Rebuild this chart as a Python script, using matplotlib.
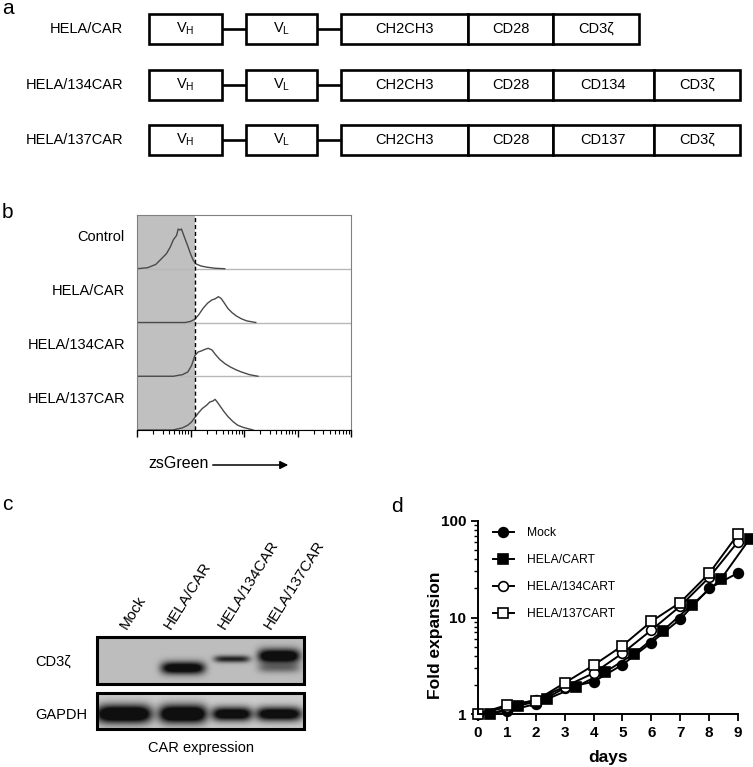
import matplotlib
matplotlib.use('Agg')
import matplotlib.pyplot as plt
from matplotlib.patches import Rectangle
import numpy as np

plt.rcParams['font.family'] = ['Liberation Sans', 'DejaVu Sans']
plt.rcParams['mathtext.fontset'] = 'custom'
plt.rcParams['mathtext.rm'] = 'Liberation Sans'

W, H = 753, 767

# ── panel a : CAR constructs ─────────────────────────────────────
constructs = ['HELA/CAR', 'HELA/134CAR', 'HELA/137CAR']
domains = [
    ['V$_{\\rm H}$', 'V$_{\\rm L}$', 'CH2CH3', 'CD28', 'CD3ζ'],
    ['V$_{\\rm H}$', 'V$_{\\rm L}$', 'CH2CH3', 'CD28', 'CD134', 'CD3ζ'],
    ['V$_{\\rm H}$', 'V$_{\\rm L}$', 'CH2CH3', 'CD28', 'CD137', 'CD3ζ'],
]
dom_w = [73, 71, 127, 85, 101, 86]
row_y = [29, 85, 140]

# ── panel b : zsGreen histograms (x in log decades, y = fraction of row) ──
hist_labels = ['Control', 'HELA/CAR', 'HELA/134CAR', 'HELA/137CAR']
ctrl_x = [0.0, 0.2, 0.35, 0.45, 0.55, 0.62, 0.68, 0.74, 0.77, 0.80, 0.83, 0.86,
          0.90, 0.95, 1.00, 1.05, 1.10, 1.20, 1.30, 1.45, 1.64]
ctrl_y = [0.0, 0.02, 0.08, 0.18, 0.28, 0.40, 0.54, 0.62, 0.74, 0.72, 0.74, 0.66,
          0.55, 0.42, 0.28, 0.16, 0.09, 0.05, 0.03, 0.01, 0.0]
car_x = [0.0, 0.9, 1.0, 1.08, 1.15, 1.24, 1.32, 1.40, 1.46, 1.52, 1.57, 1.62,
         1.70, 1.78, 1.86, 1.95, 2.05, 2.22]
car_y = [0.0, 0.0, 0.02, 0.06, 0.14, 0.27, 0.36, 0.42, 0.44, 0.48, 0.45, 0.38,
         0.26, 0.18, 0.12, 0.07, 0.03, 0.0]
c134_x = [0.0, 0.68, 0.85, 0.95, 1.02, 1.08, 1.14, 1.20, 1.27, 1.33, 1.40, 1.47,
          1.55, 1.65, 1.75, 1.85, 1.95, 2.10, 2.26]
c134_y = [0.0, 0.0, 0.03, 0.08, 0.20, 0.38, 0.45, 0.47, 0.50, 0.52, 0.49, 0.40,
          0.31, 0.23, 0.17, 0.12, 0.08, 0.03, 0.0]
c137_x = [0.0, 0.67, 0.85, 0.95, 1.02, 1.08, 1.15, 1.22, 1.30, 1.36, 1.42, 1.46,
          1.50, 1.55, 1.62, 1.70, 1.79, 1.88, 1.98, 2.17]
c137_y = [0.0, 0.0, 0.04, 0.09, 0.15, 0.23, 0.32, 0.40, 0.46, 0.52, 0.54, 0.57,
          0.52, 0.45, 0.35, 0.25, 0.16, 0.09, 0.05, 0.0]
gate = 1.08

# ── panel c : western blot ───────────────────────────────────────
lanes = ['Mock', 'HELA/CAR', 'HELA/134CAR', 'HELA/137CAR']
lane_x = [124, 183, 232, 279]
lane_hw = [26, 22, 18, 21]
cd3z_amp = [0.0, 1.3, 0.9, 1.4]
cd3z_yc = [668, 668, 659, 656]
cd3z_sy = [4.0, 4.5, 2.5, 5.0]
cd3z_low_amp = [0.0, 0.0, 0.0, 0.45]     # lower band in HELA/137CAR
gapdh_amp = [1.5, 1.5, 1.3, 1.3]
gapdh_sy = [6.5, 6.5, 5.0, 5.0]

# ── panel d : expansion ──────────────────────────────────────────
days = [0, 1, 2, 3, 4, 5, 6, 7, 8, 9]
days_cart = [0.4, 1.4, 2.4, 3.4, 4.4, 5.4, 6.4, 7.4, 8.4, 9.4]
mock = [1.0, 1.07, 1.27, 1.86, 2.16, 3.24, 5.5, 9.6, 20, 29]
cart = [1.0, 1.22, 1.43, 1.92, 2.72, 4.2, 7.3, 13.5, 24.8, 65]
c134 = [1.0, 1.18, 1.40, 1.92, 2.65, 4.26, 7.4, 13.1, 26, 61]
c137 = [1.0, 1.24, 1.38, 2.10, 3.20, 5.1, 9.1, 14.3, 28.6, 73]

fig = plt.figure(figsize=(W/100, H/100), dpi=100)
fig.patch.set_facecolor('white')

ov = fig.add_axes([0, 0, 1, 1])
ov.set_xlim(0, W); ov.set_ylim(H, 0)
ov.axis('off')

# panel letters
for x, y, s in [(2, 8, 'a'), (2, 213, 'b'), (2, 505, 'c'), (391, 507, 'd')]:
    ov.text(x, y, s, fontsize=15, ha='left', va='center')

# ── a ──
for name, doms, cy in zip(constructs, domains, row_y):
    ov.text(123, cy, name, ha='right', va='center', fontsize=10.5)
    x = 149
    bh = 30
    for i, d in enumerate(doms):
        w = dom_w[i] if i < 4 else (dom_w[4] if len(doms) == 6 and i == 4 else dom_w[5])
        ov.add_patch(Rectangle((x, cy-bh/2), w, bh, fc='white', ec='black', lw=1.9, zorder=3))
        ov.text(x+w/2, cy, d, ha='center', va='center', fontsize=10.5, zorder=4)
        x += w
        if i < 2:
            gap = 24
            ov.plot([x, x+gap], [cy, cy], color='black', lw=1.9, zorder=2)
            x += gap

# ── b ──
axb = fig.add_axes([137/W, 1-430/H, 214/W, 215/H])
axb.set_xscale('log')
axb.set_xlim(1, 1e4)
axb.set_ylim(0, 4)
axb.axvspan(1, 10**gate, color='#c0c0c0', lw=0, zorder=0)
axb.axvline(10**gate, color='black', lw=1, ls=(0, (3, 2)), zorder=3)
series = [(ctrl_x, ctrl_y), (car_x, car_y), (c134_x, c134_y), (c137_x, c137_y)]
for k, (hx, hy) in enumerate(series):
    base = 3 - k
    axb.plot([1, 1e4], [base, base], color='#b8b8b8', lw=1, zorder=1)
    axb.plot(10**np.array(hx), base + np.array(hy), color='#4a4a4a', lw=1.0, zorder=2)
    ov.text(125, 430 - (base + 0.58)*54, hist_labels[k], ha='right', va='center', fontsize=10.5)
axb.set_yticks([])
axb.tick_params(axis='x', which='major', length=5, width=1, direction='out', labelbottom=False)
axb.tick_params(axis='x', which='minor', length=3, width=0.8, direction='out')
for s in ['top', 'left', 'right']:
    axb.spines[s].set_color('#808080')
axb.spines['bottom'].set_color('black')
ov.text(148, 464, 'zsGreen', fontsize=11.5, ha='left', va='center')
ov.annotate('', xy=(291, 465), xytext=(210, 465),
            arrowprops=dict(arrowstyle='-|>', color='black', lw=1.1, mutation_scale=12))

# ── c ──
def blot(x0, x1, y0, y1, bg, bands):
    xs = np.arange(x0, x1) + 0.5
    ys = np.arange(y0, y1) + 0.5
    X, Y = np.meshgrid(xs, ys)
    dark = np.zeros_like(X)
    for cx, hw, cy, sy, amp in bands:
        dark += amp * np.exp(-np.abs((X-cx)/hw)**5) * np.exp(-0.5*((Y-cy)/sy)**2)
    dark = np.clip(dark, 0, 1)
    img = bg*(1-dark) + 0.06*dark
    ov.imshow(img, cmap='gray', vmin=0, vmax=1, extent=(x0, x1, y1, y0),
              origin='upper', interpolation='bilinear', aspect='auto', zorder=2)
    ov.add_patch(Rectangle((x0, y0), x1-x0, y1-y0, fc='none', ec='black', lw=2.2, zorder=3))

top_bands = [(lane_x[i], lane_hw[i], cd3z_yc[i], cd3z_sy[i], cd3z_amp[i]) for i in range(4)]
top_bands += [(lane_x[i], lane_hw[i], 668, 3.5, cd3z_low_amp[i]) for i in range(4)]
blot(97, 304, 637, 684, 0.74, top_bands)
bot_bands = [(lane_x[i], lane_hw[i]+2, 714, gapdh_sy[i], gapdh_amp[i]) for i in range(4)]
blot(97, 304, 693, 729, 0.80, bot_bands)
ov.set_xlim(0, W); ov.set_ylim(H, 0)

for lx, name in zip([127, 171, 225, 271], lanes):
    ov.text(lx, 630, name, rotation=58, rotation_mode='anchor', ha='left', va='baseline', fontsize=11)
ov.text(35, 662, 'CD3ζ', ha='left', va='center', fontsize=10.5)
ov.text(35, 715, 'GAPDH', ha='left', va='center', fontsize=10.5)
ov.text(201, 748, 'CAR expression', ha='center', va='center', fontsize=10.5)

# ── d ──
axd = fig.add_axes([478/W, 1-714/H, 260/W, 193/H])
axd.set_yscale('log')
axd.set_xlim(0, 9)
axd.set_ylim(1, 100)
kw = dict(color='black', lw=1.4, ms=7, mew=1.2, clip_on=False)
axd.plot(days, mock, marker='o', label='Mock', **kw)
axd.plot(days_cart, cart, marker='s', label='HELA/CART', **kw)
axd.plot(days, c134, marker='o', mfc='white', label='HELA/134CART', **kw)
axd.plot(days, c137, marker='s', mfc='white', label='HELA/137CART', **kw)
axd.set_xticks(days)
axd.set_yticks([1, 10, 100])
axd.set_yticklabels(['1', '10', '100'])
axd.tick_params(axis='both', which='major', length=5, width=1.3, labelsize=11)
axd.tick_params(axis='y', which='minor', length=3, width=1.0)
for lab in axd.get_xticklabels() + axd.get_yticklabels():
    lab.set_fontweight('bold')
for s in ['top', 'right']:
    axd.spines[s].set_visible(False)
for s in ['left', 'bottom']:
    axd.spines[s].set_linewidth(1.4)
axd.set_xlabel('days', fontsize=12.5, fontweight='bold')
axd.xaxis.set_label_coords(0.5, -0.185)
axd.set_ylabel('Fold expansion', fontsize=12.5, fontweight='bold')
axd.yaxis.set_label_coords(-0.135, 0.41)
axd.legend(loc='upper left', bbox_to_anchor=(493/W, 1-527/H), bbox_transform=fig.transFigure,
           frameon=False, fontsize=8.7, handlelength=1.7, handletextpad=1.1,
           labelspacing=1.25, borderpad=0, borderaxespad=0)

fig.savefig('out.png', dpi=100, facecolor='white')
